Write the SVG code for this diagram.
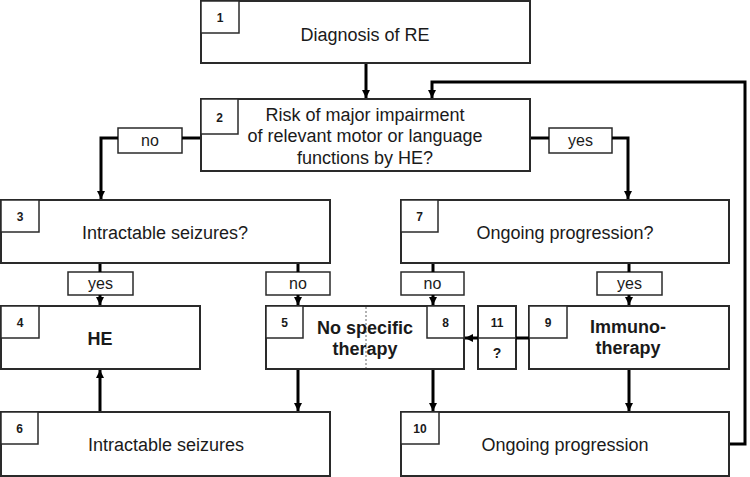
<svg xmlns="http://www.w3.org/2000/svg" width="750" height="477" viewBox="0 0 750 477">
<style>
.box{fill:#fff;stroke:#2a2a2a;stroke-width:2}
.num{fill:#fff;stroke:#2a2a2a;stroke-width:1.5}
.t{font-family:"Liberation Sans",Arial,sans-serif;font-size:18px;fill:#1a1a1a;text-anchor:middle}
.b{font-weight:bold}
.n{font-family:"Liberation Sans",Arial,sans-serif;font-size:12px;font-weight:bold;fill:#1a1a1a;text-anchor:middle}
.l{font-family:"Liberation Sans",Arial,sans-serif;font-size:16px;fill:#1a1a1a;text-anchor:middle}
.c{fill:none;stroke:#000;stroke-width:3}
</style>
<defs>
<marker id="ah" markerUnits="userSpaceOnUse" markerWidth="9" markerHeight="9" refX="8" refY="4.5" orient="auto">
<path d="M0,0.5 L8,4.5 L0,8.5 z" fill="#000"/>
</marker>
</defs>
<g id="n1"><rect class="box" x="201" y="1" width="329" height="62"/><rect class="num" x="201" y="1" width="38" height="32"/><text class="n" x="220" y="22">1</text><text class="t" x="365" y="41">Diagnosis of RE</text></g>
<g id="n2"><rect class="box" x="201" y="99" width="329" height="72"/><rect class="num" x="201" y="99" width="37" height="35"/><text class="n" x="219.5" y="122">2</text><text class="t" x="365" y="121">Risk of major impairment</text><text class="t" x="365" y="142">of relevant motor or language</text><text class="t" x="365" y="164">functions by HE?</text></g>
<g id="n3"><rect class="box" x="1" y="200" width="329" height="63"/><rect class="num" x="1" y="200" width="38" height="32"/><text class="n" x="20" y="221">3</text><text class="t" x="165" y="239">Intractable seizures?</text></g>
<g id="n7"><rect class="box" x="401" y="200" width="328" height="63"/><rect class="num" x="401" y="200" width="37" height="32"/><text class="n" x="419.5" y="221">7</text><text class="t" x="565" y="239">Ongoing progression?</text></g>
<g id="n4"><rect class="box" x="1" y="306" width="199" height="63"/><rect class="num" x="1" y="306" width="38" height="32"/><text class="n" x="20" y="327">4</text><text class="t b" x="100" y="345">HE</text></g>
<g id="n5-8"><rect class="box" x="266" y="306" width="198" height="63"/><line x1="366" y1="307" x2="366" y2="368" stroke="#999" stroke-width="1.5" stroke-dasharray="2,2"/><rect class="num" x="266" y="306" width="37" height="32"/><text class="n" x="284.5" y="327">5</text><rect class="num" x="427" y="306" width="37" height="32"/><text class="n" x="445.5" y="327">8</text><text class="t b" x="365" y="334">No specific</text><text class="t b" x="365" y="355">therapy</text></g>
<g id="n11"><rect class="box" x="478" y="306" width="38" height="63"/><line x1="478" y1="338" x2="516" y2="338" stroke="#2a2a2a" stroke-width="1.5"/><text class="n" x="497" y="327">11</text><text class="n" x="497" y="358" style="font-size:14px">?</text></g>
<g id="n9"><rect class="box" x="529" y="306" width="200" height="63"/><rect class="num" x="529" y="306" width="38" height="32"/><text class="n" x="548" y="327">9</text><text class="t b" x="628" y="333">Immuno-</text><text class="t b" x="628" y="354">therapy</text></g>
<g id="n6"><rect class="box" x="1" y="412" width="329" height="64"/><rect class="num" x="1" y="412" width="37" height="32"/><text class="n" x="19.5" y="433">6</text><text class="t" x="166" y="451">Intractable seizures</text></g>
<g id="n10"><rect class="box" x="401" y="412" width="328" height="64"/><rect class="num" x="401" y="412" width="38" height="32"/><text class="n" x="420" y="433">10</text><text class="t" x="565" y="451">Ongoing progression</text></g>
<g id="labels">
<rect class="num" x="118" y="128" width="64" height="25"/><text class="l" x="150" y="146">no</text>
<rect class="num" x="549" y="128" width="63" height="25"/><text class="l" x="580.5" y="146">yes</text>
<rect class="num" x="68" y="272" width="65" height="23"/><text class="l" x="100.5" y="289">yes</text>
<rect class="num" x="266" y="272" width="64" height="23"/><text class="l" x="298" y="289">no</text>
<rect class="num" x="401" y="272" width="63" height="23"/><text class="l" x="432.5" y="289">no</text>
<rect class="num" x="597" y="272" width="65" height="23"/><text class="l" x="629.5" y="289">yes</text>
</g>
<g id="connectors">
<path class="c" d="M366,64 V98" marker-end="url(#ah)"/>
<path class="c" d="M200,138 H182"/>
<path class="c" d="M118,138 H101 V199" marker-end="url(#ah)"/>
<path class="c" d="M531,138 H549"/>
<path class="c" d="M612,138 H628 V199" marker-end="url(#ah)"/>
<path class="c" d="M100,264 V272"/>
<path class="c" d="M100,295 V305" marker-end="url(#ah)"/>
<path class="c" d="M298,264 V272"/>
<path class="c" d="M298,295 V305" marker-end="url(#ah)"/>
<path class="c" d="M433,264 V272"/>
<path class="c" d="M433,295 V305" marker-end="url(#ah)"/>
<path class="c" d="M629,264 V272"/>
<path class="c" d="M629,295 V305" marker-end="url(#ah)"/>
<path class="c" d="M529,338 H516"/>
<path class="c" d="M478,338 H465" marker-end="url(#ah)"/>
<path class="c" d="M100,411 V370" marker-end="url(#ah)"/>
<path class="c" d="M298,370 V411" marker-end="url(#ah)"/>
<path class="c" d="M433,370 V411" marker-end="url(#ah)"/>
<path class="c" d="M629,370 V411" marker-end="url(#ah)"/>
<path class="c" d="M730,444 H745 V82 H432 V98" marker-end="url(#ah)"/>
</g>
</svg>
